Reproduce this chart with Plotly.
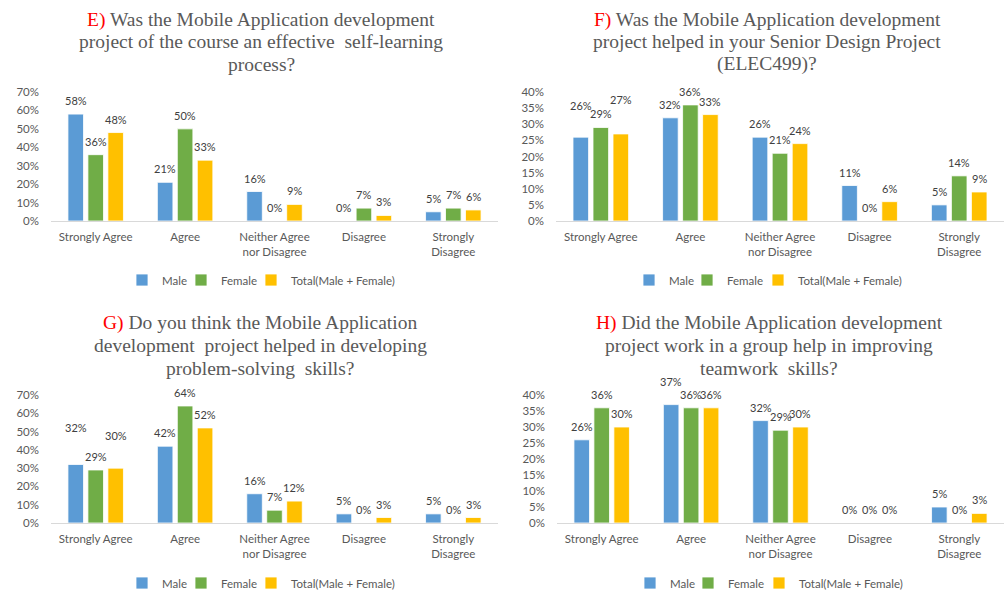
import plotly.graph_objects as go

categories = ["Strongly Agree", "Agree", "Neither Agree<br>nor Disagree", "Disagree", "Strongly<br>Disagree"]
series_names = ["Male", "Female", "Total(Male + Female)"]
colors = ["#5B9BD5", "#70AD47", "#FFC000"]

# Panel E
e_male = [0.58, 0.21, 0.16, 0.00, 0.05]
e_female = [0.36, 0.50, 0.00, 0.07, 0.07]
e_total = [0.48, 0.33, 0.09, 0.03, 0.06]
# Panel F
f_male = [0.26, 0.32, 0.26, 0.11, 0.05]
f_female = [0.29, 0.36, 0.21, 0.00, 0.14]
f_total = [0.27, 0.33, 0.24, 0.06, 0.09]
# Panel G
g_male = [0.32, 0.42, 0.16, 0.05, 0.05]
g_female = [0.29, 0.64, 0.07, 0.00, 0.00]
g_total = [0.30, 0.52, 0.12, 0.03, 0.03]
# Panel H
h_male = [0.26, 0.37, 0.32, 0.00, 0.05]
h_female = [0.36, 0.36, 0.29, 0.00, 0.00]
h_total = [0.30, 0.36, 0.30, 0.00, 0.03]

titles = {
    "E": ["Was the Mobile Application development",
          "project of the course an effective  self-learning",
          "process?"],
    "F": ["Was the Mobile Application development",
          "project helped in your Senior Design Project",
          "(ELEC499)?"],
    "G": ["Do you think the Mobile Application",
          "development  project helped in developing",
          "problem-solving  skills?"],
    "H": ["Did the Mobile Application development",
          "project work in a group help in improving",
          "teamwork  skills?"],
}

# vertical lift (px) of data labels above bar tops; a few labels were moved by hand in the original
default_lift = 13.5
label_lift = {("F", 0, 0): 32, ("F", 2, 0): 34, ("G", 0, 0): 37, ("G", 2, 0): 33, ("H", 0, 1): 23}

W, H = 1005, 595
def fx(px):
    return px / W
def fy(py):
    return 1 - py / H

BARGAP = 0.33
BARGROUPGAP = 0.22

# legend swatch centres (px) for each panel's three entries
legend_swatch_x = {"E": (142, 201, 271), "F": (649, 707, 778), "G": (142, 201, 271), "H": (650, 708, 779)}

panels = [
    ("E", (e_male, e_female, e_total), (51, 498), (221, 92), 0.70, 0.10, 261, (20, 42, 64), 280),
    ("F", (f_male, f_female, f_total), (556, 1004), (221, 92), 0.40, 0.05, 767, (20, 42, 64), 280),
    ("G", (g_male, g_female, g_total), (51, 498), (523, 395), 0.70, 0.10, 260, (323, 345, 368), 583),
    ("H", (h_male, h_female, h_total), (557, 1004), (523, 395), 0.40, 0.05, 769, (323, 345, 368), 583),
]

fig = go.Figure()
annotations = []
layout_extra = {}
font_family = "Lato, Carlito, Calibri, sans-serif"

for i, (letter, data, xd, yd, ymax, dtick, tcx, tys, leg_y) in enumerate(panels):
    n = "" if i == 0 else str(i + 1)
    xa, ya = "x" + n, "y" + n
    for s, vals in enumerate(data):
        leg_idx = i * 3 + s + 1
        legname = "legend" if leg_idx == 1 else "legend" + str(leg_idx)
        fig.add_trace(go.Bar(
            x=categories, y=vals, name=series_names[s],
            marker=dict(color=colors[s], line=dict(color="white", width=0.8)),
            xaxis=xa, yaxis=ya, legend=legname, showlegend=True, hoverinfo="skip",
        ))
        layout_extra[legname] = dict(
            orientation="h", x=fx(legend_swatch_x[letter][s] - 20), y=fy(leg_y),
            xanchor="left", yanchor="middle", visible=True,
            font=dict(family=font_family, size=11.5, color="#595959"),
            itemwidth=30, bgcolor="rgba(0,0,0,0)", borderwidth=0,
        )
        slot = (1 - BARGAP) / 3
        for c, v in enumerate(vals):
            annotations.append(dict(
                x=c + (s - 1) * slot, y=v, xref=xa, yref=ya,
                text=f"{round(v * 100):d}%", showarrow=False,
                xanchor="center", yanchor="middle",
                yshift=label_lift.get((letter, s, c), default_lift),
                font=dict(family=font_family, size=11, color="#404040"),
            ))
    layout_extra["xaxis" + n] = dict(
        domain=[fx(xd[0]), fx(xd[1])], anchor=ya, showgrid=False, zeroline=False,
        showline=True, linecolor="#D9D9D9", linewidth=1.3, ticks="",
        tickfont=dict(family=font_family, size=11.5, color="#595959"),
        ticklabelstandoff=5, fixedrange=True,
    )
    layout_extra["yaxis" + n] = dict(
        domain=[fy(yd[0]), fy(yd[1])], anchor=xa, range=[0, ymax], dtick=dtick,
        tickformat=".0%", showgrid=False, zeroline=False, showline=False, ticks="",
        tickfont=dict(family=font_family, size=11.5, color="#595959"),
        ticklabelstandoff=11, fixedrange=True,
    )
    lines = titles[letter]
    for k, (line, ty) in enumerate(zip(lines, tys)):
        txt = line if k > 0 else "<span style='color:#FF0000'>" + letter + ")</span> " + line
        annotations.append(dict(
            text=txt, x=fx(tcx), y=fy(ty), xref="paper", yref="paper",
            xanchor="center", yanchor="middle", showarrow=False,
            font=dict(family="Liberation Serif, Times New Roman, serif", size=19.5, color="#595959"),
        ))

fig.update_layout(
    width=W, height=H, margin=dict(l=0, r=0, t=0, b=0, pad=0, autoexpand=False),
    paper_bgcolor="white", plot_bgcolor="white", showlegend=True,
    barmode="group", bargap=BARGAP, bargroupgap=BARGROUPGAP,
    annotations=annotations, **layout_extra,
)

fig.write_html(
    "out.html",
    config={"displayModeBar": False},
    post_script="document.body.style.margin='0';document.body.style.overflow='hidden';",
)
